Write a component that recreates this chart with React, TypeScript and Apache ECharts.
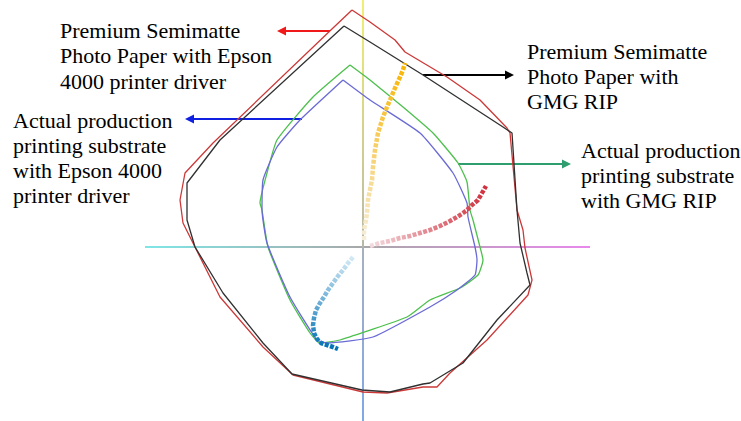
import React, { useEffect, useRef } from "react";
import * as echarts from "echarts";

// Gamut outlines in the a*b* plane: [a*, b*]
const semimatteEpson: number[][] = [
  [-4.4, 94.8], [2.8, 90], [12.8, 82.8], [16.8, 78], [33.6, 68], [46.8, 58.8],
  [57.6, 47.6], [58.8, 45.6], [61.6, 14.8], [64, 6.8], [64.8, -0.4], [67.6, -13.2],
  [66, -19.2], [49.6, -37.2], [34.8, -50.4], [29.6, -56], [24, -56], [9.6, -58.4],
  [0, -58], [-28, -51.2], [-40, -40], [-57.2, -20], [-67.2, 0], [-72, 9.6],
  [-73.2, 18.8], [-71.2, 29.6], [-60, 41.6], [-12, 87.6], [-4.4, 94.8],
];
const semimatteGMG: number[][] = [
  [-7.6, 88.4], [2.8, 82], [24, 68.8], [56, 48], [59.6, 45.6], [61.6, 14.8],
  [62.8, 1.6], [65.6, -10.4], [66.8, -15.2], [53.6, -29.2], [40, -46.4], [26.8, -54.4],
  [24, -54.8], [10.8, -58], [-0.4, -57.2], [-28.4, -50.8], [-40, -38.4], [-56, -18.4],
  [-67.2, 0], [-70.4, 10.8], [-70.4, 25.6], [-57.2, 42.8], [-7.6, 88.4],
];
const productionGMG: number[][] = [
  [-5.2, 72.8], [2.8, 66.8], [16, 56], [28, 45.6], [38, 33.6], [41.6, 26],
  [42.8, 14.8], [44, 10.8], [46.8, 0], [48, -5.2], [46, -11.2], [38.8, -16.4],
  [26.8, -21.2], [17.6, -28], [-9.2, -37.2], [-17.2, -38.4], [-21.2, -34.4], [-29.2, -21.2],
  [-38, 0], [-40.4, 14.8], [-41.2, 17.6], [-38.4, 29.6], [-34.4, 42.8], [-20, 60], [-5.2, 72.8],
];
const productionEpson: number[][] = [
  [-8, 66.8], [2.8, 58.8], [22.8, 45.6], [36, 29.6], [41.6, 17.6], [42, 12],
  [44.8, 0], [45.6, -5.2], [44.8, -11.2], [37.6, -17.2], [26.8, -24], [4, -36],
  [-14.4, -38.4], [-18.4, -37.2], [-29.2, -20], [-38.4, 1.6], [-40.4, 14.8], [-40, 26.8],
  [-34.4, 40], [-25.2, 50.8], [-8, 66.8],
];

// Colour ramps measured from the centre outward
const yellowRamp: number[][] = [
  [0.4, 2.8], [0.4, 6.8], [1.2, 10.8], [1.6, 13.6], [2, 18.8], [2.8, 22.8], [3.6, 26.8],
  [4, 32], [4.8, 38.8], [6, 45.6], [8, 52], [9.6, 56], [10.8, 58.8], [12.8, 63.6],
  [14.8, 68], [16, 70.8], [16.8, 73.6],
];
const redRamp: number[][] = [
  [2.8, 0.4], [6.8, 1.6], [10.8, 2.4], [14.8, 3.6], [18.8, 4.4], [22.8, 5.6], [26.8, 6.8],
  [30.8, 8.4], [34.8, 10.4], [37.6, 12], [40, 13.6], [41.6, 14.8], [43.6, 16.8], [46, 18.8],
  [47.6, 21.6], [49.2, 24.4],
];
const blueRamp: number[][] = [
  [-4, -4], [-6, -6.4], [-8, -9.2], [-10, -11.6], [-12, -14.4], [-14, -17.2], [-15.6, -20],
  [-17.2, -22.4], [-18.8, -25.2], [-19.6, -28.4], [-20, -31.2], [-19.6, -34.4], [-18.4, -36.8],
  [-16.8, -38.4], [-14.4, -39.2], [-12, -40], [-10, -40.8],
];

// Extents of the drawn a* and b* axes
const aAxisExtent = [-87.2, 90.8];
const bAxisExtent = [-69.6, 98.8];

const labels = [
  "Premium Semimatte\nPhoto Paper with Epson\n4000 printer driver",
  "Actual production\nprinting substrate\nwith Epson 4000\nprinter driver",
  "Premium Semimatte\nPhoto Paper with\nGMG RIP",
  "Actual production\nprinting substrate\nwith GMG RIP",
];

const FONT = "'Liberation Serif', 'Times New Roman', serif";

function arrow(x1: number, x2: number, y: number, color: string) {
  const dir = x2 > x1 ? 1 : -1;
  const headLen = 9;
  return [
    {
      type: "line",
      shape: { x1, y1: y, x2: x2 - dir * headLen, y2: y },
      style: { stroke: color, lineWidth: 2 },
    },
    {
      type: "polygon",
      shape: {
        points: [
          [x2, y],
          [x2 - dir * headLen, y - 4.5],
          [x2 - dir * headLen, y + 4.5],
        ],
      },
      style: { fill: color },
    },
  ];
}

function grad(x: number, y: number, x2: number, y2: number, c0: string, c1: string) {
  return new echarts.graphic.LinearGradient(x, y, x2, y2, [
    { offset: 0, color: c0 },
    { offset: 1, color: c1 },
  ]);
}

// gradient in pixel space (for zero-thickness lines)
function gradGlobal(x: number, y: number, x2: number, y2: number, c0: string, c1: string) {
  return new echarts.graphic.LinearGradient(
    x, y, x2, y2,
    [
      { offset: 0, color: c0 },
      { offset: 1, color: c1 },
    ],
    true
  );
}

export default function App() {
  const ref = useRef<HTMLDivElement>(null);
  useEffect(() => {
    if (!ref.current) return;
    const chart = echarts.init(ref.current, null, { renderer: "svg" });
    const outline = (name: string, data: number[][], color: string, smooth = 0, width = 1.3) => ({
      name,
      type: "line",
      data,
      smooth,
      showSymbol: false,
      symbol: "none",
      lineStyle: { color, width },
      z: 3,
    });
    const axisLine = (data: number[][], color: any) => ({
      type: "line",
      data,
      showSymbol: false,
      symbol: "none",
      lineStyle: { color, width: 2 },
      z: 1,
    });
    const ramp = (data: number[][], color: any) => ({
      type: "line",
      data,
      showSymbol: false,
      symbol: "none",
      lineStyle: { color, width: 4.5, type: [4, 1.5] },
      z: 4,
    });
    chart.setOption({
      animation: false,
      backgroundColor: "#ffffff",
      grid: { left: 0, right: 0, top: 0, bottom: 0, containLabel: false },
      xAxis: { type: "value", min: -145.2, max: 151.2, show: false },
      yAxis: { type: "value", min: -69.6, max: 98.8, show: false },
      series: [
        axisLine([[aAxisExtent[0], 0], [0, 0]], gradGlobal(145, 0, 363, 0, "#7FE6E6", "#A8A8A8")),
        axisLine([[0, 0], [aAxisExtent[1], 0]], gradGlobal(363, 0, 590, 0, "#A8A8A8", "#E888EC")),
        axisLine([[0, 0], [0, bAxisExtent[1]]], gradGlobal(0, 247, 0, 0, "#B8B8A8", "#F2F070")),
        axisLine([[0, bAxisExtent[0]], [0, 0]], gradGlobal(0, 421, 0, 247, "#7FA8E6", "#A8B0C0")),
        outline("Premium Semimatte Photo Paper with Epson 4000 printer driver", semimatteEpson, "#CC3838"),
        outline("Premium Semimatte Photo Paper with GMG RIP", semimatteGMG, "#303030"),
        outline("Actual production printing substrate with GMG RIP", productionGMG, "#4CC04C", 0.15),
        outline("Actual production printing substrate with Epson 4000 printer driver", productionEpson, "#6A6AD6", 0.15),
        ramp(yellowRamp, grad(0, 1, 0, 0, "#F6EEDC", "#F8B400")),
        ramp(redRamp, grad(0, 0, 1, 0, "#F4DCE0", "#D0303E")),
        ramp(blueRamp, grad(0, 0, 0, 1, "#D4EAF6", "#0070B4")),
      ],
      graphic: [
        {
          type: "text",
          left: 60,
          top: 17.5,
          style: { text: labels[0], font: `22px ${FONT}`, lineHeight: 25.5, fill: "#000" },
        },
        {
          type: "text",
          left: 13,
          top: 107.5,
          style: { text: labels[1], font: `22px ${FONT}`, lineHeight: 25, fill: "#000" },
        },
        {
          type: "text",
          left: 527,
          top: 38.8,
          style: { text: labels[2], font: `22px ${FONT}`, lineHeight: 25, fill: "#000" },
        },
        {
          type: "text",
          left: 581,
          top: 137.8,
          style: { text: labels[3], font: `22px ${FONT}`, lineHeight: 25, fill: "#000" },
        },
        ...arrow(330, 277, 31, "#F01818"),
        ...arrow(302, 185, 119, "#1020E0"),
        ...arrow(423, 514, 75, "#000000"),
        ...arrow(458, 571, 164, "#2E9E6E"),
      ],
    });
    return () => chart.dispose();
  }, []);
  return (
    <div
      ref={ref}
      style={{ position: "absolute", left: 0, top: 0, width: 741, height: 421 }}
    />
  );
}
